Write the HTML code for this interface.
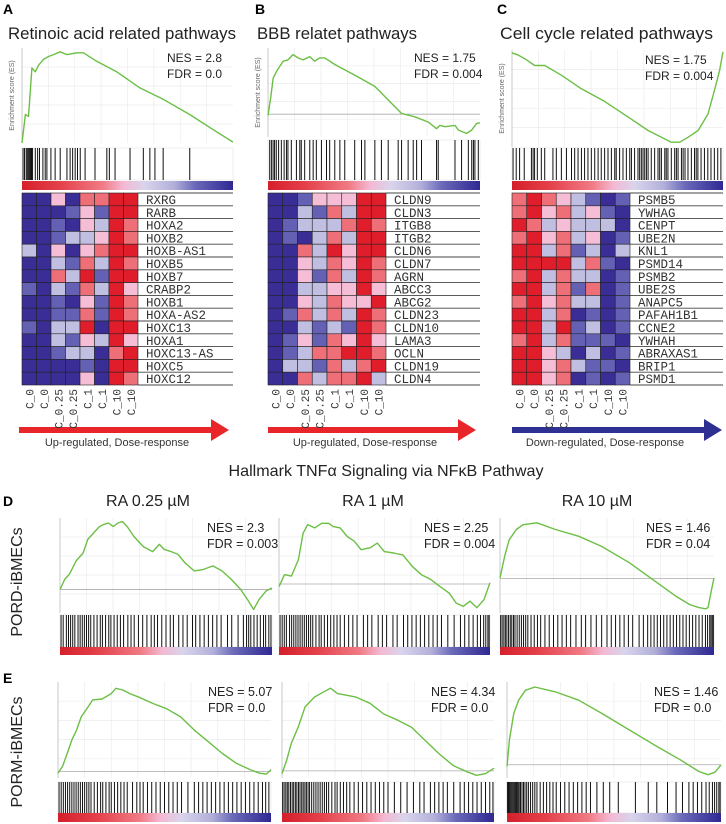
<!DOCTYPE html>
<html><head><meta charset="utf-8"><style>
html,body{margin:0;padding:0;background:#fff;}
svg{display:block;font-family:"Liberation Sans","DejaVu Sans",sans-serif;}
</style></head><body>
<svg id="fig" width="726" height="824" viewBox="0 0 726 824" xmlns="http://www.w3.org/2000/svg">
<defs>
<linearGradient id="rankGrad" x1="0" x2="1" y1="0" y2="0">
<stop offset="0" stop-color="#d51f2a"/><stop offset="0.18" stop-color="#e4414b"/><stop offset="0.38" stop-color="#f07a84"/><stop offset="0.48" stop-color="#f4b8d2"/><stop offset="0.58" stop-color="#d9d4ec"/><stop offset="0.72" stop-color="#b2b0da"/><stop offset="0.82" stop-color="#6b69b9"/><stop offset="1" stop-color="#2f2893"/>
</linearGradient>
</defs>
<g id="static">
<text x="3" y="14" font-size="14" font-weight="bold">A</text>
<text x="255" y="14" font-size="14" font-weight="bold">B</text>
<text x="497" y="14" font-size="14" font-weight="bold">C</text>
<text x="8" y="39" font-size="17" fill="#222" textLength="228" lengthAdjust="spacingAndGlyphs">Retinoic acid related pathways</text>
<text x="257" y="39" font-size="17" fill="#222" textLength="160" lengthAdjust="spacingAndGlyphs">BBB relatet pathways</text>
<text x="500" y="39" font-size="17" fill="#222" textLength="213" lengthAdjust="spacingAndGlyphs">Cell cycle related pathways</text>
<text x="386" y="476" font-size="16" fill="#222" text-anchor="middle" textLength="315" lengthAdjust="spacingAndGlyphs">Hallmark TNFα Signaling via NFκB Pathway</text>
<text x="3" y="506" font-size="14" font-weight="bold">D</text>
<text x="3" y="683" font-size="14" font-weight="bold">E</text>
<text x="148" y="506" font-size="16" fill="#222" text-anchor="middle">RA 0.25 µM</text>
<text x="373" y="506" font-size="16" fill="#222" text-anchor="middle">RA 1 µM</text>
<text x="597" y="506" font-size="16" fill="#222" text-anchor="middle">RA 10 µM</text>
<text transform="translate(22,582) rotate(-90)" font-size="16" fill="#222" text-anchor="middle">PORD-iBMECs</text>
<text transform="translate(22,752) rotate(-90)" font-size="16" fill="#222" text-anchor="middle">PORM-iBMECs</text>
<g><rect x="19" y="427" width="194" height="6" fill="#e8262a"/><polygon points="211,419 229,430 211,441" fill="#e8262a"/></g>
<g><rect x="268" y="427" width="192" height="6" fill="#e8262a"/><polygon points="458,419 476,430 458,441" fill="#e8262a"/></g>
<g><rect x="512" y="427" width="194" height="6" fill="#2e3192"/><polygon points="704,419 722,430 704,441" fill="#2e3192"/></g>
<text x="117" y="446" font-size="11" fill="#333" text-anchor="middle">Up-regulated, Dose-response</text>
<text x="365" y="446" font-size="11" fill="#333" text-anchor="middle">Up-regulated, Dose-response</text>
<text x="605" y="446" font-size="11" fill="#333" text-anchor="middle">Down-regulated, Dose-response</text>
</g>
<g id="charts"></g>
</svg>
<script>
// ---------- data ----------
const esRanksA = [0,1.6,3.1,3.9,4.7,6.3,7.9,10.2,12.6,15,18.1,21.3,26,29.1,35.4,44.9,55.9,66.9,79.5,90.6,100];
const esValsA  = [0,.30,.28,.53,.79,.75,.82,.88,.91,.93,.96,.93,.95,.95,.86,.75,.58,.46,.30,.14,.01];
const esRanksB = [0,1.3,2.4,3.9,5.5,7.1,9.4,11.8,14.2,16.5,19.7,22,24.4,26.8,31.5,40.9,50.4,63,69.3,75.6,79.5,81.1,83.5,88.2,89.8,93.7,96.1,98.4,100];
const esValsB  = [-.02,.26,.54,.64,.72,.80,.82,.90,.85,.82,.87,.80,.85,.85,.75,.59,.42,.01,-.04,-.12,-.22,-.17,-.19,-.17,-.24,-.29,-.24,-.14,-.13];
const esRanksC = [0,2.8,6.8,10.7,15.5,23.4,32.9,43.9,55,64.5,70.8,75.5,79.5,83.4,88.2,92.9,96,98.4,100];
const esValsC  = [.97,.95,.90,.84,.84,.74,.60,.47,.31,.17,.10,.05,.05,.10,.17,.34,.59,.79,.98];
const esRanksD1 = [0,2.2,4.4,7.6,10.9,13.1,16.4,18.6,20.7,22.9,25.1,27.3,29.5,31.7,34.9,39.3,43.7,46.9,49.1,52.4,55.7,59,63.3,67.7,72.1,76.4,80.8,85.2,88.4,91.3,93.9,97.2,100];
const esValsD1  = [0,.14,.21,.40,.51,.70,.81,.88,.91,.93,.88,.93,.95,.88,.74,.60,.53,.63,.56,.53,.49,.37,.26,.28,.33,.26,.14,0,-.14,-.28,-.14,-.02,.02];
const esRanksD2 = [0,2.6,5.9,9.2,11.4,13.6,16.9,20.2,23.5,25.7,29,32.3,35.6,38.9,43.3,46.6,49.9,54.3,58.7,63.1,67.5,71.9,76.3,80.7,84,87.3,90.5,93.8,97.1,100];
const esValsD2  = [-.04,.14,.12,.37,.77,.90,.85,.92,.92,.87,.85,.72,.65,.52,.55,.62,.49,.47,.44,.27,.14,.07,-.04,-.14,-.29,-.34,-.26,-.36,-.24,.02];
const esRanksD3 = [0,2.2,4.3,7.6,10.8,17.3,25.9,36.7,47.5,60.5,73.4,82.1,88.6,92.9,96.1,97.2,98.9,100];
const esValsD3  = [.01,.37,.64,.81,.89,.92,.81,.70,.53,.26,-.07,-.29,-.43,-.48,-.50,-.48,-.18,.01];
const esRanksE1 = [0,2.2,4.3,6.5,8.7,10.9,14.1,16.3,20.7,25,27.2,30.4,33.7,38,44.6,51.1,57.6,64.1,70.7,77.2,83.7,90.2,94.6,97.8,100];
const esValsE1  = [-.02,.06,.20,.35,.46,.61,.72,.80,.81,.87,.93,.91,.87,.83,.76,.70,.61,.46,.33,.20,.09,.02,-.02,-.03,.02];
const esRanksE2 = [0,2.2,4.4,7.6,10.9,15.3,19.7,22.9,26.2,30.6,34.9,41.5,48,54.6,61.1,67.7,74.2,80.8,87.3,91.7,96.1,100];
const esValsE2  = [-.03,.12,.31,.49,.72,.83,.89,.93,.87,.85,.83,.76,.64,.57,.49,.34,.19,.06,-.01,-.05,-.03,.03];
const esRanksE3 = [0,1.1,3.2,5.4,8.6,13,22.7,33.5,44.3,57.2,70.2,81,89.6,93.9,97.2,100];
const esValsE3  = [-.02,.30,.62,.78,.90,.94,.88,.78,.62,.42,.22,.06,-.08,-.12,-.09,0];

const hitsA = [0.5,1.2,2,2.5,3,3.5,4,4.5,5,6.3,7.4,8.3,9.9,11,11.8,13.7,15.7,18.1,21.3,22.8,24,25.2,26.3,27.6,29.9,34.6,40.2,41.4,44.1,51.2,57.5,60.6,63,66.9,79.5];
const hitsB = [0.8,1.6,2.4,3.1,3.9,5,6.3,7.6,8.7,9.4,11,13.4,15,15.7,17.3,19.7,21.3,22.8,25.2,27.6,29.1,31.5,33.9,36.2,40.9,44.1,45.7,50.4,53.5,56.7,61.4,63,66.1,68.5,70.1,72.4,79.5,80.3,88.2,91.3,94.5,96.1,96.9,97.6,99.2];
const hitsC = [0.5,2,3.6,5.8,9.2,10,10.7,12,13.9,15.5,19.4,21,23.4,25.8,28.2,29.7,31.3,32.9,34.4,36,37.6,39.2,40.8,42.3,43.9,45.5,47.1,48.7,49.4,51,52.6,54.2,55.8,56.6,58.1,59.7,60.5,61.3,62.1,62.9,63.7,64.5,66,67.6,69.2,70,70.8,72.4,73.1,73.9,75.5,77.1,77.9,78.7,80.3,81.1,82,83.4,85,86.5,87.3,88.1,89.6,91.2,92.8,94.3,95.9,97.5,99];
const hitsD1 = [0.5,1.5,3,4,5,6,7,8.5,9.5,10.5,11.5,12.5,13.5,14.5,16,17.5,19,20,21.5,23,24,25.5,27,28.5,30,32,33.5,35,37,39,41,43,44.5,46,48,50,52,53.5,56,58,60,62.5,64,66,68,70,72,74,76,79,81,84,86.5,88,89,90,91.5,93,94.5,96,97,98.5,99.5];
const hitsD2 = [0.5,1.5,2.5,3.5,5,6,7,8,9,10,11,12,13,14,15,16,17.5,19,20,21.5,23,24.5,26,27.5,29,31,33,35,37,40,42,44,47,49,51,54,56,59,61,63,65,67,69,71,73,75,77,80,83,86,88,90,92,94,95.5,97,98,99,99.6];
const hitsD3 = [0.3,1,1.8,2.5,3.2,4,4.8,5.5,6.3,7,8,9,10,11,12,13,14.5,16,17.5,19,21,23,25,27,29,31,33,35.5,38,40,42.5,45,47.5,50,52,54,56,58,60,62,65,67,69,70.5,72,73.5,75,76.5,78,79.5,81,82.5,84,85.5,87,88.5,90,91.5,93,94.5,96,97,98,98.6,99.2,99.7];
const hitsE1 = [0.5,1.5,2.5,3.5,4.5,5.5,6.5,7.5,8.5,9.5,10.5,11.5,12.5,13.5,14.5,15.5,17,18.5,20,21,22.5,24,25,26.5,28,29.5,31,32.5,35,37,38.5,40,42,44,46,48,50,52,54,56,58,61,64,66,68,70,72,74,76,78,80,82,84,86,88,90,92,94,96,97.5,99];
const hitsE2 = [0.3,1,1.8,2.5,3.2,4,4.8,5.5,6.3,7,7.8,8.5,9.3,10,10.8,11.5,12.3,13,14,15,16,17,18,19,20,21,22,23.5,25,26,27.5,29,30.5,32,34,36,38,40,42,44,46,48,50,53,56,59,62,65,67,70,72,74,76,78,81,84,86,88,90,92,94,96,98,99.5];
const hitsE3 = [0.2,0.7,1.2,1.7,2.2,2.7,3.2,3.7,4.2,4.7,5.2,5.7,6.3,7,7.7,8.4,9.2,10,11,12,13,14,15.5,17,18.5,20,21.5,23,25,27,29,31,33,35,37,39,42,45,48,52,60,66,70,75,79,82,85,87,89,91,93,94.5,96,97,98,99,99.6];

const colsHeat = ["C_0","C_0","C_0.25","C_0.25","C_1","C_1","C_10","C_10"];
const genesA = ["RXRG","RARB","HOXA2","HOXB2","HOXB-AS1","HOXB5","HOXB7","CRABP2","HOXB1","HOXA-AS2","HOXC13","HOXA1","HOXC13-AS","HOXC5","HOXC12"];
const heatA = [
[-3,-3,1,-3,2,2,3,3],[-3,-3,-3,-2,1,-2,3,3],[-3,-3,-2,-3,1,-1,3,2],[-3,-3,-2,-1,-1,1,3,2],[-1,-3,1,-3,1,2,3,3],
[-3,-3,-1,-2,2,-1,3,2],[-3,-3,2,-1,3,-2,3,3],[-2,-3,-1,-2,2,-1,3,1],[-3,-3,-2,-3,1,-2,3,2],[-3,-3,-2,-2,2,-2,3,2],
[-2,-3,-1,-1,3,-3,3,3],[-3,-3,-1,-2,1,-1,3,1],[-3,-3,-2,-1,-1,-3,2,3],[-3,-3,-3,-3,-2,-3,3,3],[-3,-3,-3,-3,1,-3,3,2]];
const genesB = ["CLDN9","CLDN3","ITGB8","ITGB2","CLDN6","CLDN7","AGRN","ABCC3","ABCG2","CLDN23","CLDN10","LAMA3","OCLN","CLDN19","CLDN4"];
const heatB = [
[-3,-3,-2,1,1,1,3,3],[-3,-3,-1,-2,2,-1,3,3],[-3,-2,-1,-1,-1,2,3,2],[-3,-2,-3,-1,2,-1,3,3],[-3,-3,2,-1,3,1,3,3],
[-3,-3,1,-1,2,1,3,2],[-3,-3,1,-2,2,-1,3,2],[-3,-3,-1,-1,1,1,3,1],[-3,-3,1,-1,2,1,1,3],[-3,-2,2,-1,2,-1,3,2],
[-3,-3,-1,-2,-1,-2,3,2],[-3,-2,1,-2,2,1,3,1],[-3,-2,-1,2,2,3,3,2],[-3,-1,-1,-2,2,-1,2,3],[-3,-3,2,-1,2,2,3,-1]];
const genesC = ["PSMB5","YWHAG","CENPT","UBE2N","KNL1","PSMD14","PSMB2","UBE2S","ANAPC5","PAFAH1B1","CCNE2","YWHAH","ABRAXAS1","BRIP1","PSMD1"];
const heatC = [
[2,3,2,1,-1,-2,-3,-2],[2,3,1,2,-1,1,-2,-3],[3,2,-1,1,-1,-1,-1,-3],[2,3,1,2,-1,1,-3,-2],[3,3,-1,2,-2,-1,-3,-1],
[3,3,3,3,-1,2,-2,-3],[2,3,-1,2,-1,-1,-3,-2],[3,3,-1,2,-2,2,-3,-2],[2,3,1,2,-1,-1,-3,-2],[3,3,-1,2,-3,-2,-3,-2],
[3,3,-1,3,-2,-1,-3,-2],[2,3,-1,2,-2,-2,-2,-3],[3,3,1,-1,-3,-1,-3,-2],[3,3,1,2,-1,-2,-2,-3],[3,3,1,2,-3,-2,-3,-2]];

const nesLabels = ["2.8","1.75","1.75","2.3","2.25","1.46","5.07","4.34","1.46"];
const fdrLabels = ["0.0","0.004","0.004","0.003","0.004","0.04","0.0","0.0","0.0"];

// ---------- helpers ----------
const NS = "http://www.w3.org/2000/svg";
const root = document.getElementById("charts");
function mk(tag, attrs, parent){ const e=document.createElementNS(NS,tag); for(const k in attrs) e.setAttribute(k,attrs[k]); (parent||root).appendChild(e); return e; }
function lin(d0,d1,r0,r1){ return v => r0 + (v-d0)/(d1-d0)*(r1-r0); }
const heatColor = {"-3":"#3a2d96","-2":"#6461b4","-1":"#c0bfe1","0":"#e2dbee","1":"#f6bdd6","2":"#ef6f78","3":"#e01e2b"};

function drawES(name, box, ranks, vals, dom, hits, nesIdx, nesX, small){
  const g = mk("g",{});
  
  
  const x = lin(0,100,box.x0,box.x1);
  const y = lin(dom[0],dom[1],box.esB,box.esT);
  // grid
  for(let i=1;i<8;i++){ const gx=box.x0+(box.x1-box.x0)*i/8; mk("line",{x1:gx,x2:gx,y1:box.esT,y2:box.esB,stroke:"#ececec","stroke-width":0.7},g); }
  for(let i=1;i<5;i++){ const gy=box.esT+(box.esB-box.esT)*i/5; mk("line",{x1:box.x0,x2:box.x1,y1:gy,y2:gy,stroke:"#ececec","stroke-width":0.7},g); }
  mk("line",{x1:box.x0,x2:box.x0,y1:box.esT,y2:box.esB,stroke:"#bbb","stroke-width":0.8},g);
  if(dom[0] < 0){ const zl = mk("line",{x1:box.x0,x2:box.x1,y1:y(0),y2:y(0),stroke:"#aaa","stroke-width":0.8},g);
    
     }
  let d="";
  ranks.forEach((r,i)=>{ d += (i?"L":"M") + x(r).toFixed(1) + "," + y(vals[i]).toFixed(1); });
  const p = mk("path",{d:d,fill:"none",stroke:"#6cbf45","stroke-width":1.4,"stroke-linejoin":"round"},g);
  
  
  // hits
  const hg = mk("g",{},g);
  
  
  mk("rect",{x:box.x0,y:box.hT,width:box.x1-box.x0,height:box.hB-box.hT,fill:"#fff",stroke:"#ddd","stroke-width":0.5},hg);
  hits.forEach(h=>{ const l=mk("line",{x1:x(h),x2:x(h),y1:box.hT,y2:box.hB,stroke:"#111","stroke-width":1},hg);
    
     });
  const cb = mk("rect",{x:box.x0,y:box.cT,width:box.x1-box.x0,height:box.cB-box.cT,fill:"url(#rankGrad)"},g);
  
  
  const fs = small?12:12.5;
  const t1 = mk("text",{x:nesX,y:box.esT+14,"font-size":fs,fill:"#222"},g); t1.textContent="NES = "+nesLabels[nesIdx];
  
  
  const t2 = mk("text",{x:nesX,y:box.esT+30,"font-size":fs,fill:"#222"},g); t2.textContent="FDR = "+fdrLabels[nesIdx];
  
  
  if(small){
    const ya = mk("text",{transform:"translate("+(box.x0-8)+","+((box.esT+box.esB)/2)+") rotate(-90)","font-size":7,fill:"#666","text-anchor":"middle"},g);
    ya.textContent="Enrichment score (ES)";
    
    
  }
}

function drawHeat(name, hx0, hx1, panelR, genes, heat){
  const g = mk("g",{});
  
  
  const top=193, bot=385, rh=(bot-top)/genes.length, cw=(hx1-hx0)/colsHeat.length;
  heat.forEach((row,ri)=>{
    row.forEach((v,ci)=>{
      const c = mk("rect",{x:hx0+ci*cw,y:top+ri*rh,width:cw,height:rh,fill:heatColor[String(v)],stroke:"#222","stroke-width":0.6},g);
      
      
    });
    const ln = mk("line",{x1:hx1,x2:panelR,y1:top+(ri+1)*rh,y2:top+(ri+1)*rh,stroke:"#444","stroke-width":0.9},g);
    
    
    const t = mk("text",{x:hx1+8,y:top+(ri+1)*rh-1.8,"font-size":12.5,"font-family":"Liberation Mono, monospace",fill:"#333"},g);
    t.textContent = genes[ri];
    
    
  });
  mk("line",{x1:hx1,x2:panelR,y1:top,y2:top,stroke:"#444","stroke-width":0.9},g);
  colsHeat.forEach((c,ci)=>{
    const t = mk("text",{transform:"translate("+(hx0+ci*cw+cw/2+4)+",389) rotate(-90)","font-size":11,"font-family":"Liberation Mono, monospace",fill:"#333","text-anchor":"end"},g);
    t.textContent = c;
    
    
  });
}

// panels A-C
drawES("es-plot-a",{x0:22,x1:233,esT:48,esB:143,hT:148,hB:180,cT:181,cB:190},esRanksA,esValsA,[0,1],hitsA,0,167,true);
drawES("es-plot-b",{x0:268,x1:480,esT:48,esB:137,hT:140,hB:180,cT:181,cB:190},esRanksB,esValsB,[-0.345,1],hitsB,1,414,true);
drawES("es-plot-c",{x0:512,x1:723,esT:50,esB:147,hT:148,hB:180,cT:181,cB:190},esRanksC,esValsC,[0,1],hitsC,2,645,true);
drawHeat("heatmap-a",22,138,233,genesA,heatA);
drawHeat("heatmap-b",268,386,480,genesB,heatB);
drawHeat("heatmap-c",512,630,723,genesC,heatC);
// panel D
drawES("es-plot-d-025",{x0:60,x1:272,esT:518,esB:613,hT:615,hB:647,cT:647,cB:655},esRanksD1,esValsD1,[-0.33,1],hitsD1,3,207,false);
drawES("es-plot-d-1",{x0:279,x1:490,esT:518,esB:613,hT:615,hB:647,cT:647,cB:655},esRanksD2,esValsD2,[-0.44,1],hitsD2,4,424,false);
drawES("es-plot-d-10",{x0:500,x1:714,esT:518,esB:613,hT:615,hB:647,cT:647,cB:655},esRanksD3,esValsD3,[-0.57,1],hitsD3,5,646,false);
// panel E
drawES("es-plot-e-025",{x0:58,x1:271,esT:682,esB:778,hT:782,hB:813,cT:813,cB:822},esRanksE1,esValsE1,[-0.074,1],hitsE1,6,208,false);
drawES("es-plot-e-1",{x0:282,x1:494,esT:682,esB:778,hT:782,hB:813,cT:813,cB:822},esRanksE2,esValsE2,[-0.08,1],hitsE2,7,431,false);
drawES("es-plot-e-10",{x0:507,x1:721,esT:682,esB:778,hT:782,hB:813,cT:813,cB:822},esRanksE3,esValsE3,[-0.16,1],hitsE3,8,654,false);
</script>
</body></html>
